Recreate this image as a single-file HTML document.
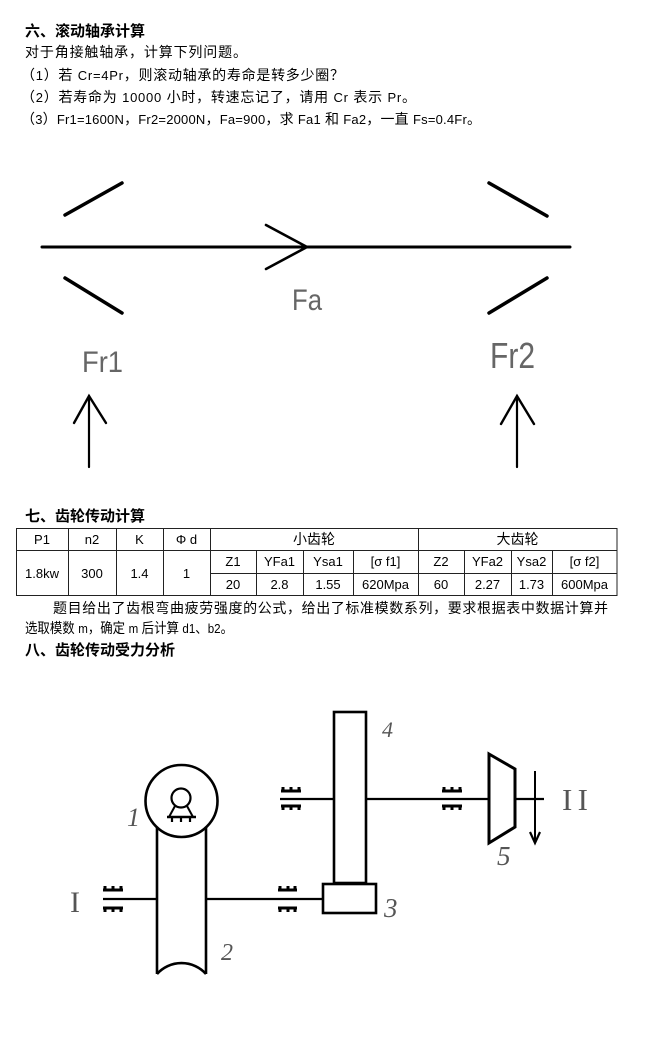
<!DOCTYPE html>
<html><head><meta charset="utf-8"><style>
html,body{margin:0;padding:0;background:#fff;}
svg{display:block;}
.t{font-family:"Liberation Sans","Noto Sans CJK SC",sans-serif;font-size:14px;fill:#000;}
.h{font-family:"Liberation Sans","Noto Sans CJK SC",sans-serif;font-size:15px;font-weight:bold;fill:#000;}
.l{font-size:13px;}
.c{font-family:"Liberation Sans","Noto Sans CJK SC",sans-serif;font-size:13px;fill:#000;}
.cj{font-family:"Liberation Sans","Noto Sans CJK SC",sans-serif;font-size:14px;fill:#000;}
.lab{font-family:"Liberation Sans Narrow","Liberation Sans",sans-serif;fill:#666;}
.num{font-family:"Liberation Serif",serif;font-style:italic;fill:#555;}
.rom{font-family:"Liberation Serif",serif;fill:#555;}
</style></head><body>
<svg width="662" height="1045" viewBox="0 0 662 1045" xmlns="http://www.w3.org/2000/svg">
<rect x="0" y="0" width="662" height="1045" fill="#fff"/>

<!-- Section 6 text -->
<text class="h" x="25" y="36" textLength="120" lengthAdjust="spacing">六、滚动轴承计算</text>
<text class="t" x="25" y="57" textLength="222" lengthAdjust="spacing">对于角接触轴承，计算下列问题。</text>
<text class="t" x="21" y="80" textLength="323" lengthAdjust="spacing">（<tspan class="l">1</tspan>）若 <tspan class="l">Cr=4Pr</tspan>，则滚动轴承的寿命是转多少圈？</text>
<text class="t" x="21" y="102" textLength="395" lengthAdjust="spacing">（<tspan class="l">2</tspan>）若寿命为 <tspan class="l">10000</tspan> 小时，转速忘记了，请用 <tspan class="l">Cr</tspan> 表示 <tspan class="l">Pr</tspan>。</text>
<text class="t" x="21" y="124" textLength="460" lengthAdjust="spacing">（<tspan class="l">3</tspan>）<tspan class="l">Fr1=1600N</tspan>，<tspan class="l">Fr2=2000N</tspan>，<tspan class="l">Fa=900</tspan>，求 <tspan class="l">Fa1</tspan> 和 <tspan class="l">Fa2</tspan>，一直 <tspan class="l">Fs=0.4Fr</tspan>。</text>

<!-- Bearing diagram -->
<g stroke="#000" fill="none" stroke-linecap="round">
  <line x1="42" y1="247" x2="570" y2="247" stroke-width="3"/>
  <polyline points="266,225 307,247 266,269" stroke-width="2.6" stroke-linejoin="miter"/>
  <line x1="65" y1="215" x2="122" y2="183" stroke-width="3.5"/>
  <line x1="65" y1="278" x2="122" y2="313" stroke-width="3.5"/>
  <line x1="489" y1="183" x2="547" y2="216" stroke-width="3.5"/>
  <line x1="489" y1="313" x2="547" y2="278" stroke-width="3.5"/>
  <line x1="89" y1="467" x2="89" y2="396" stroke-width="2.2"/>
  <polyline points="74,423 89,396 106,423" stroke-width="2.4"/>
  <line x1="517" y1="467" x2="517" y2="396" stroke-width="2.2"/>
  <polyline points="501,424 517,396 534,424" stroke-width="2.4"/>
</g>
<text class="lab" x="292" y="310" font-size="30" textLength="30" lengthAdjust="spacingAndGlyphs">Fa</text>
<text class="lab" x="82" y="372" font-size="30" textLength="41" lengthAdjust="spacingAndGlyphs">Fr1</text>
<text class="lab" x="490" y="368" font-size="36" textLength="45" lengthAdjust="spacingAndGlyphs">Fr2</text>

<!-- Section 7 -->
<text class="h" x="25" y="521" textLength="120" lengthAdjust="spacing">七、齿轮传动计算</text>
<g stroke="#222" stroke-width="1" fill="none" shape-rendering="crispEdges">
  <rect x="16.5" y="528.5" width="600.5" height="67"/>
  <line x1="16" y1="550.5" x2="617" y2="550.5"/>
  <line x1="210" y1="573.5" x2="617" y2="573.5"/>
  <line x1="68.5" y1="528" x2="68.5" y2="596"/>
  <line x1="116.5" y1="528" x2="116.5" y2="596"/>
  <line x1="163.5" y1="528" x2="163.5" y2="596"/>
  <line x1="210.5" y1="528" x2="210.5" y2="596"/>
  <line x1="418.5" y1="528" x2="418.5" y2="596"/>
  <line x1="256.5" y1="550" x2="256.5" y2="596"/>
  <line x1="303.5" y1="550" x2="303.5" y2="596"/>
  <line x1="353.5" y1="550" x2="353.5" y2="596"/>
  <line x1="464.5" y1="550" x2="464.5" y2="596"/>
  <line x1="511.5" y1="550" x2="511.5" y2="596"/>
  <line x1="552.5" y1="550" x2="552.5" y2="596"/>
</g>
<g text-anchor="middle">
  <text class="c" x="42" y="544">P1</text>
  <text class="c" x="92" y="544">n2</text>
  <text class="c" x="139.5" y="544">K</text>
  <text class="c" x="186.5" y="544">Φ d</text>
  <text class="cj" x="314" y="544">小齿轮</text>
  <text class="cj" x="517.5" y="544">大齿轮</text>
  <text class="c" x="42" y="578">1.8kw</text>
  <text class="c" x="92" y="578">300</text>
  <text class="c" x="139.5" y="578">1.4</text>
  <text class="c" x="186.5" y="578">1</text>
  <text class="c" x="233" y="566">Z1</text>
  <text class="c" x="279.5" y="566">YFa1</text>
  <text class="c" x="328" y="566">Ysa1</text>
  <text class="c" x="385.5" y="566">[σ f1]</text>
  <text class="c" x="441" y="566">Z2</text>
  <text class="c" x="487.5" y="566">YFa2</text>
  <text class="c" x="531.5" y="566">Ysa2</text>
  <text class="c" x="584.5" y="566">[σ f2]</text>
  <text class="c" x="233" y="589">20</text>
  <text class="c" x="279.5" y="589">2.8</text>
  <text class="c" x="328" y="589">1.55</text>
  <text class="c" x="385.5" y="589">620Mpa</text>
  <text class="c" x="441" y="589">60</text>
  <text class="c" x="487.5" y="589">2.27</text>
  <text class="c" x="531.5" y="589">1.73</text>
  <text class="c" x="584.5" y="589">600Mpa</text>
</g>
<text class="t" x="53" y="613" textLength="555" lengthAdjust="spacing">题目给出了齿根弯曲疲劳强度的公式，给出了标准模数系列，要求根据表中数据计算并</text>
<text class="t" x="25" y="633" textLength="208" lengthAdjust="spacingAndGlyphs">选取模数 <tspan class="l">m</tspan>，确定 <tspan class="l">m</tspan> 后计算 <tspan class="l">d1</tspan>、<tspan class="l">b2</tspan>。</text>

<!-- Section 8 -->
<text class="h" x="25" y="655" textLength="150" lengthAdjust="spacing">八、齿轮传动受力分析</text>

<g stroke="#000" fill="none">
  <!-- worm circle 1 -->
  <circle cx="181.5" cy="801" r="36" stroke-width="2.6"/>
  <circle cx="181" cy="798" r="9.5" stroke-width="2.2"/>
  <polyline points="175,806 169,817" stroke-width="2"/>
  <polyline points="187,806 193,817" stroke-width="2"/>
  <line x1="167" y1="817" x2="196" y2="817" stroke-width="2.4"/>
  <line x1="172" y1="817" x2="172" y2="822" stroke-width="2.2"/>
  <line x1="181" y1="817" x2="181" y2="822" stroke-width="2.2"/>
  <line x1="190" y1="817" x2="190" y2="822" stroke-width="2.2"/>
  <!-- wheel 2 -->
  <line x1="157" y1="827" x2="157" y2="974" stroke-width="2.6"/>
  <line x1="206" y1="827" x2="206" y2="974" stroke-width="2.6"/>
  <path d="M157,974 A33,33 0 0 1 206,974" stroke-width="2.6"/>
  <!-- shaft I -->
  <line x1="103" y1="899" x2="157" y2="899" stroke-width="2.2"/>
  <line x1="206" y1="899" x2="323" y2="899" stroke-width="2.2"/>
  <!-- gear 4 and 3 -->
  <rect x="334" y="712" width="32" height="171" stroke-width="2.6"/>
  <rect x="323" y="884" width="53" height="29" stroke-width="2.6"/>
  <!-- upper shaft -->
  <line x1="280" y1="799" x2="334" y2="799" stroke-width="2.2"/>
  <line x1="366" y1="799" x2="489" y2="799" stroke-width="2.2"/>
  <line x1="515" y1="799" x2="544" y2="799" stroke-width="2.2"/>
  <!-- cone 5 -->
  <polygon points="489,754 515,769 515,827 489,843" stroke-width="3" stroke-linejoin="miter"/>
  <!-- arrow down -->
  <line x1="535" y1="771" x2="535" y2="841" stroke-width="2"/>
  <polyline points="530,832 535,843 540,832" stroke-width="2.2"/>
</g>
<!-- bearing symbols -->
<g stroke="#000" fill="none" stroke-width="3">
  <path d="M103,890 H123 M105,886 V890 M113,886 V890 M121,886 V890"/>
  <path d="M103,908 H123 M105,908 V912 M113,908 V912 M121,908 V912"/>
  <path d="M278,890 H297 M280,886 V890 M288,886 V890 M295,886 V890"/>
  <path d="M278,908 H297 M280,908 V912 M288,908 V912 M295,908 V912"/>
  <path d="M281,791 H301 M283,787 V791 M291,787 V791 M299,787 V791"/>
  <path d="M281,806 H301 M283,806 V810 M291,806 V810 M299,806 V810"/>
  <path d="M442,791 H462 M444,787 V791 M452,787 V791 M460,787 V791"/>
  <path d="M442,806 H462 M444,806 V810 M452,806 V810 M460,806 V810"/>
</g>
<text class="num" x="127" y="826" font-size="26">1</text>
<text class="num" x="221" y="960" font-size="24">2</text>
<text class="num" x="382" y="737" font-size="22">4</text>
<text class="num" x="497" y="865" font-size="27">5</text>
<text class="num" x="384" y="917" font-size="27">3</text>
<text class="rom" x="70" y="912" font-size="30">I</text>
<text class="rom" x="562" y="810" font-size="31" textLength="26" lengthAdjust="spacing">II</text>
</svg>
</body></html>
